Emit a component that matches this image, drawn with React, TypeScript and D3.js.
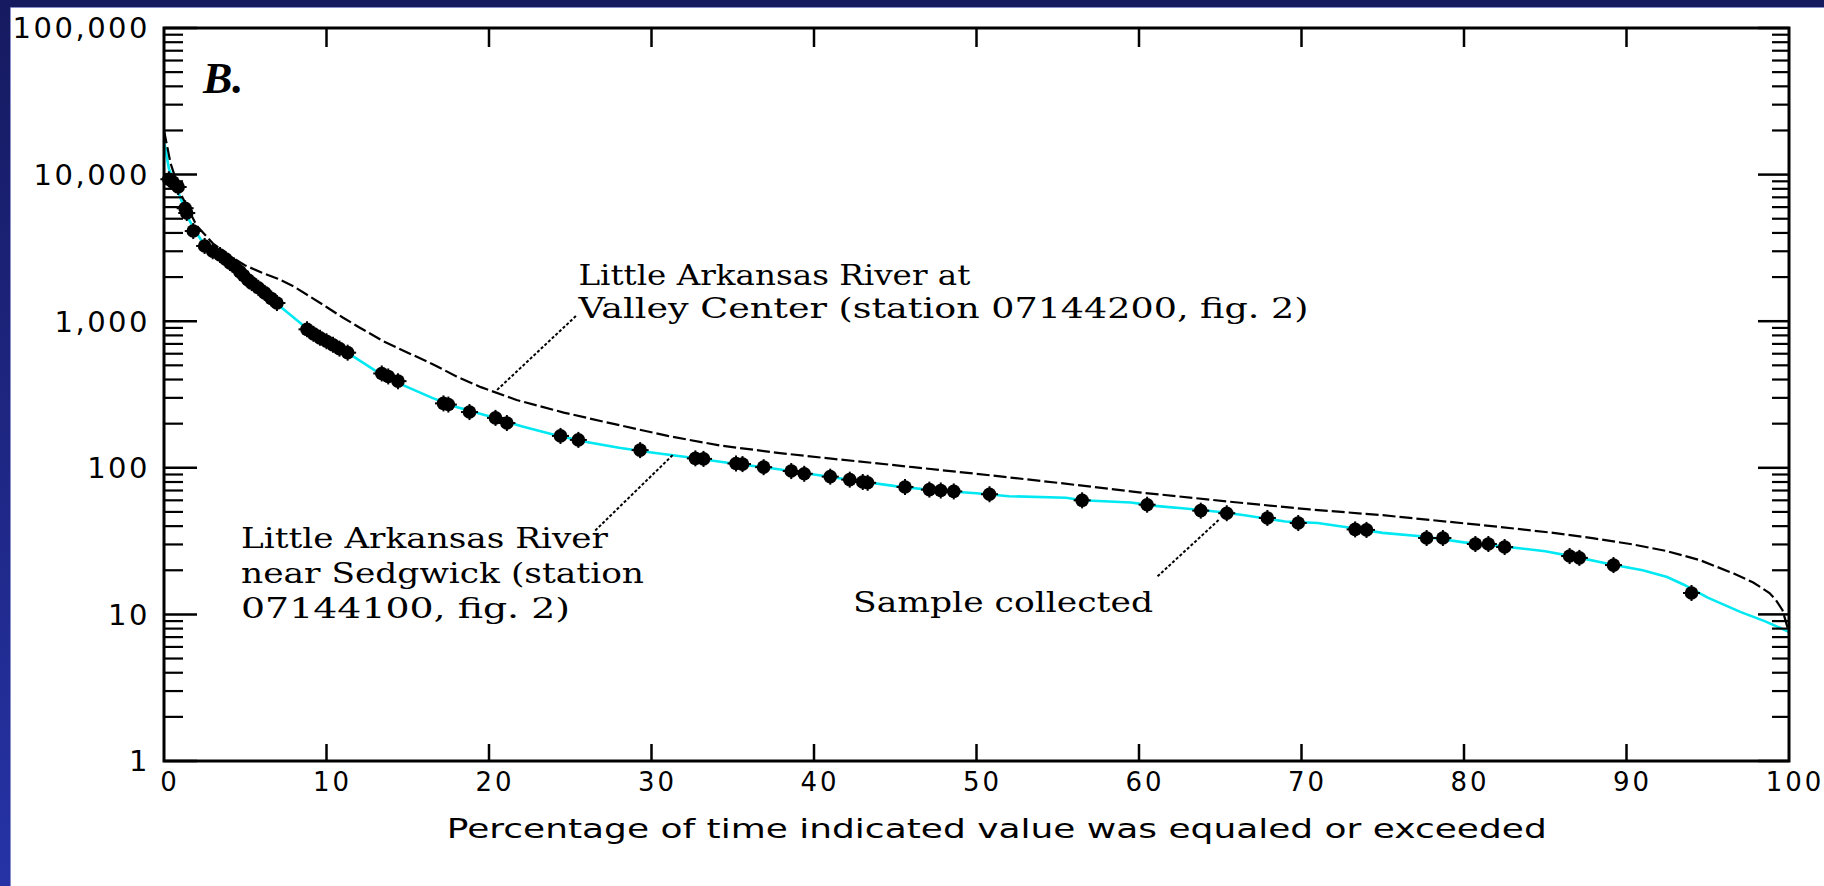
import React from 'react';
import * as d3 from 'd3';

// flow-duration curves, percent of time vs discharge (ft3/s)
const sedgwickPct = [0, 0.3, 0.6, 1, 1.5, 2, 2.5, 3.5, 4.5, 5.5, 7, 8.5, 10, 11.5, 13, 14.5, 16.5, 18, 20, 22, 24, 26, 28, 30, 32.5, 35, 37.5, 40, 42.5, 45, 47.5, 50, 52, 55.5, 56.5, 59.5, 61, 63, 65, 66.5, 69, 71, 73, 75, 77.5, 80, 82.5, 85, 87, 89, 91, 92.5, 93.5, 95, 97, 98.5, 100];
const sedgwickFlow = [17000, 11000, 9000, 7000, 5000, 4000, 3300, 2800, 2250, 1800, 1300, 950, 740, 590, 460, 375, 300, 260, 225, 192, 168, 150, 137, 127, 117, 107, 99, 90, 82, 75, 70, 67, 64, 62.5, 60, 58, 55, 52.5, 50, 47.5, 43, 42, 39, 36, 34, 31, 29, 27, 24.5, 22, 20, 18, 16, 13, 10.4, 9, 7.6];

const valleyPct = [0, 0.4, 1, 2, 3, 4, 5, 6, 7, 8, 9, 10, 11, 12, 13.5, 15, 16.6, 18, 19.5, 21.7, 24.6, 27.6, 31, 34.2, 37.9, 41.2, 44.7, 46.1, 50, 55, 60, 65.4, 70.5, 75, 78, 82.2, 85.5, 88, 90.4, 92.5, 94.5, 96.6, 97.8, 98.8, 99.2, 99.6, 100];
const valleyFlow = [20000, 12000, 7500, 4500, 3400, 2800, 2400, 2150, 1950, 1720, 1470, 1250, 1060, 910, 730, 610, 505, 420, 355, 290, 238, 200, 165, 142, 126, 115, 105, 101, 91, 79, 68, 59, 52, 47.5, 44, 39.5, 36, 33, 30, 27, 23.5, 19, 16.5, 14, 12.5, 10.7, 7.5];

const samplePct = [0.3, 0.55, 0.87, 1.3, 1.4, 1.8, 2.5, 3.0, 3.45, 3.8, 4.06, 4.3, 4.68, 4.9, 5.17, 5.4, 5.8, 6.2, 6.6, 6.95, 8.8, 9.2, 9.6, 10.0, 10.4, 10.8, 11.3, 13.4, 13.8, 14.4, 17.2, 17.5, 18.8, 20.4, 21.1, 24.4, 25.5, 29.3, 32.7, 33.2, 35.2, 35.6, 36.9, 38.6, 39.4, 41.0, 42.2, 43.0, 43.3, 45.6, 47.1, 47.8, 48.6, 50.8, 56.5, 60.5, 63.8, 65.4, 67.9, 69.8, 73.3, 74.0, 77.7, 78.7, 80.7, 81.5, 82.5, 86.5, 87.1, 89.2, 94.0];
const sampleFlow = [9300, 8900, 8230, 5900, 5470, 4120, 3260, 3000, 2830, 2650, 2500, 2400, 2170, 2050, 1910, 1820, 1690, 1560, 1430, 1330, 880, 820, 770, 730, 690, 650, 610, 440, 420, 390, 275, 270, 240, 219, 202, 165, 155, 132, 116, 115, 107, 106, 101, 95, 91, 87, 83, 80, 79, 74, 71, 70, 69, 66, 60, 56, 51, 49, 45.5, 42, 38, 37.7, 33.2, 33.2, 30.2, 30.2, 28.8, 25, 24.3, 21.7, 14];

const xTicks = [0, 10, 20, 30, 40, 50, 60, 70, 80, 90, 100];
const yTicks = [1, 10, 100, 1000, 10000, 100000];
const yTickLabels = ['1', '10', '100', '1,000', '10,000', '100,000'];

const xTitle = 'Percentage of time indicated value was equaled or exceeded';

// annotations in data units: [pct, flow]
const valleyLabel = ['Little Arkansas River at', 'Valley Center (station 07144200, fig. 2)'];
const valleyLeader = [[20.5, 340], [25.35, 1085]];
const sedgwickLabel = ['Little Arkansas River', 'near Sedgwick (station', '07144100, fig. 2)'];
const sedgwickLeader = [[31.3, 122], [26.5, 37]];
const sampleLabel = 'Sample collected';
const sampleLeader = [[64.9, 44], [61.1, 18]];

const W = 1824;
const H = 886;
const margin = { top: 28, right: 35, bottom: 125, left: 164 };

const App = () => {
  const x = d3.scaleLinear().domain([0, 100]).range([margin.left, W - margin.right]);
  const y = d3.scaleLog().domain([1, 100000]).range([H - margin.bottom, margin.top]);

  const x0 = x(0);
  const x1 = x(100);
  const y0 = y(1);
  const y1 = y(100000);

  const minorTicks: number[] = [];
  yTicks.slice(0, -1).forEach((d) => {
    for (let k = 2; k <= 9; k++) minorTicks.push(d * k);
  });

  const line = d3
    .line<[number, number]>()
    .x((d) => x(d[0]))
    .y((d) => y(d[1]));

  const sedgwick = sedgwickPct.map((p, i) => [p, sedgwickFlow[i]] as [number, number]);
  const valley = valleyPct.map((p, i) => [p, valleyFlow[i]] as [number, number]);

  const annFont = "'DejaVu Serif', serif";
  const sansFont = "'DejaVu Sans', sans-serif";

  const leader = (pts: number[][], key: string) => (
    <line
      key={key}
      x1={x(pts[0][0])}
      y1={y(pts[0][1])}
      x2={x(pts[1][0])}
      y2={y(pts[1][1])}
      stroke="#000"
      strokeWidth={2}
      strokeDasharray="3 2"
    />
  );

  return (
    <svg width={W} height={H} style={{ position: 'absolute', left: 0, top: 0, display: 'block' }}>
      <defs>
        <linearGradient id="edge" x1="0" y1="0" x2="0" y2="1">
          <stop offset="0" stopColor="#161a60" />
          <stop offset="1" stopColor="#2633a6" />
        </linearGradient>
      </defs>
      <rect x={0} y={0} width={W} height={H} fill="#161a5e" />
      <rect x={0} y={0} width={11} height={H} fill="url(#edge)" />
      <rect x={11} y={8} width={W - 11} height={H - 8} fill="#fff" />
      <line x1={10.5} y1={7.5} x2={W} y2={7.5} stroke="#8a8ec8" strokeWidth={1} />
      <line x1={10.5} y1={7.5} x2={10.5} y2={H} stroke="#8a8ec8" strokeWidth={1} />

      {/* curves */}
      <path d={line(sedgwick) ?? ''} fill="none" stroke="#00e8f2" strokeWidth={2.6} />
      <path d={line(valley) ?? ''} fill="none" stroke="#000" strokeWidth={2.2} strokeDasharray="13 4" />

      {/* samples */}
      {samplePct.map((p, i) => {
        const cx = x(p);
        const cy = y(sampleFlow[i]);
        return (
          <g key={`s${i}`}>
            <circle cx={cx} cy={cy} r={6.8} fill="#000" />
            <line x1={cx - 8.5} x2={cx + 8.5} y1={cy} y2={cy} stroke="#000" strokeWidth={2} />
            <line x1={cx} x2={cx} y1={cy - 8} y2={cy + 8} stroke="#000" strokeWidth={2} />
          </g>
        );
      })}

      {/* frame */}
      <rect x={x0} y={y1} width={x1 - x0} height={y0 - y1} fill="none" stroke="#000" strokeWidth={3} />

      {/* x ticks top and bottom */}
      {xTicks.slice(1, -1).map((t) => (
        <g key={`xt${t}`}>
          <line x1={x(t)} x2={x(t)} y1={y1} y2={y1 + 19} stroke="#000" strokeWidth={2.5} />
          <line x1={x(t)} x2={x(t)} y1={y0} y2={y0 - 17} stroke="#000" strokeWidth={2.5} />
        </g>
      ))}

      {/* y ticks left and right */}
      {yTicks.map((t) => (
        <g key={`yt${t}`}>
          <line x1={x0} x2={x0 + 33} y1={y(t)} y2={y(t)} stroke="#000" strokeWidth={2.5} />
          <line x1={x1} x2={x1 - 31} y1={y(t)} y2={y(t)} stroke="#000" strokeWidth={2.5} />
        </g>
      ))}
      {minorTicks.map((t) => (
        <g key={`ym${t}`}>
          <line x1={x0} x2={x0 + 19} y1={y(t)} y2={y(t)} stroke="#000" strokeWidth={2.2} />
          <line x1={x1} x2={x1 - 17} y1={y(t)} y2={y(t)} stroke="#000" strokeWidth={2.2} />
        </g>
      ))}

      {/* tick labels */}
      {yTicks.map((t, i) => (
        <text
          key={`yl${t}`}
          x={x0 - 14}
          y={y(t)}
          dy="0.36em"
          textAnchor="end"
          fontFamily={sansFont}
          fontSize={29}
          letterSpacing={2.5}
          fill="#000"
        >
          {yTickLabels[i]}
        </text>
      ))}
      {xTicks.map((t) => (
        <text
          key={`xl${t}`}
          x={x(t) + 6}
          y={y0 + 30}
          textAnchor="middle"
          fontFamily={sansFont}
          fontSize={26}
          letterSpacing={3}
          fill="#000"
        >
          {t}
        </text>
      ))}
      <text
        x={x(17.4)}
        y={y0 + 77}
        fontFamily={sansFont}
        fontSize={27}
        textLength={1100}
        lengthAdjust="spacingAndGlyphs"
        fill="#000"
      >
        {xTitle}
      </text>

      {/* panel letter */}
      <text x={x(2.4)} y={y(36000)} fontFamily="'Liberation Serif', serif" fontStyle="italic" fontWeight="bold" fontSize={44} fill="#000">
        B.
      </text>

      {/* annotations */}
      {leader(valleyLeader, 'lv')}
      {leader(sedgwickLeader, 'ls')}
      {leader(sampleLeader, 'lc')}
      <text x={x(25.5)} y={y(1766)} fontFamily={annFont} fontSize={27} textLength={392} lengthAdjust="spacingAndGlyphs">
        {valleyLabel[0]}
      </text>
      <text x={x(25.5)} y={y(1052)} fontFamily={annFont} fontSize={27} textLength={730} lengthAdjust="spacingAndGlyphs">
        {valleyLabel[1]}
      </text>
      {sedgwickLabel.map((s, i) => (
        <text
          key={`sl${i}`}
          x={x(4.74)}
          y={y([28.4, 16.5, 9.5][i])}
          fontFamily={annFont}
          fontSize={27}
          textLength={[367, 403, 329][i]}
          lengthAdjust="spacingAndGlyphs"
        >
          {s}
        </text>
      ))}
      <text x={x(42.4)} y={y(10.4)} fontFamily={annFont} fontSize={27} textLength={300} lengthAdjust="spacingAndGlyphs">
        {sampleLabel}
      </text>
    </svg>
  );
};

export default App;
